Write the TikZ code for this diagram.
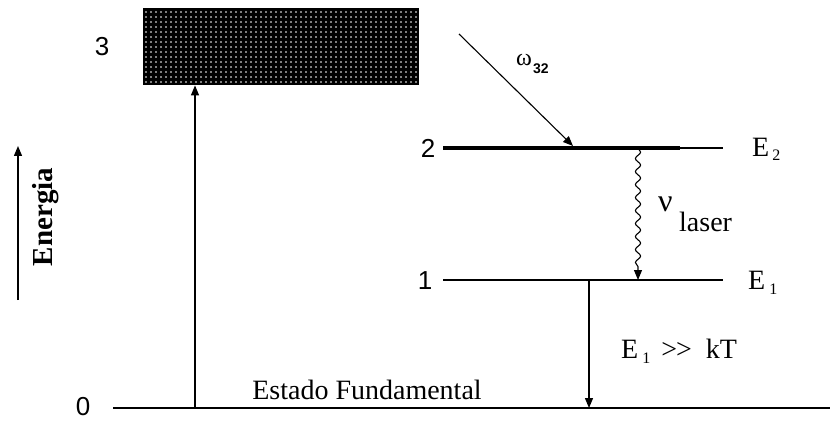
\documentclass[tikz,border=0pt]{standalone}
\usepackage{fontspec}
\setmainfont{Liberation Serif}
\newfontfamily\digitfont{Liberation Sans}
\usetikzlibrary{arrows.meta,decorations.pathmorphing,patterns}
\pgfdeclarepatternformonly{wdots}{\pgfpointorigin}{\pgfpoint{4.5pt}{4.5pt}}{\pgfpoint{4.5pt}{4.5pt}}{\pgfpathcircle{\pgfpoint{2.25pt}{2.25pt}}{1pt}\pgfusepath{fill}}
\begin{document}
\begin{tikzpicture}[x=1pt,y=-1pt,
  level/.style={line width=1.3pt},
  heavy/.style={line width=3.6pt},
  tip/.style={-{Triangle[width=8pt,length=10pt]}},
  txt/.style={inner sep=0pt,font=\fontsize{28}{30}\selectfont},
  num/.style={inner sep=0pt,font=\digitfont\fontsize{26}{28}\selectfont},
  wave/.style={decorate,decoration={snake,amplitude=2.6pt,segment length=13pt,post length=10pt}}]
\useasboundingbox[fill=white] (0,0) rectangle (830,422);
% level 3 band
\node[fill=black,minimum width=276pt,minimum height=77pt,inner sep=0pt,anchor=north west,
      postaction={pattern=wdots,pattern color=white}] (box3) at (143,8) {};
\node[num] (n3) at (102,47) {3};
% ground level
\coordinate (g0) at (113,408);
\coordinate (g1) at (830,408);
\draw[level] (g0) -- (g1);
\draw[heavy,line width=2.8pt] (668,408) -- (g1);
\draw[heavy,line width=2.8pt] (628,408) -- (646,408);
\node[num] (n0) at (83,407) {0};
\node[txt] (fund) at (367,390) {Estado Fundamental};
% level 2
\coordinate (l2a) at (443,148);
\coordinate (l2b) at (723,148);
\draw[level] (l2a) -- (l2b);
\draw[heavy] (l2a) -- (680,148);
\node[num] (n2) at (428,148) {2};
\node[txt,anchor=west] (e2) at (752,149) {E\kern3pt\raisebox{-4pt}{\fontsize{16}{16}\selectfont 2}};
% level 1
\coordinate (l1a) at (443,280);
\coordinate (l1b) at (723,280);
\draw[level] (l1a) -- (l1b);
\draw[heavy,line width=2.8pt] (667,280) -- (693,280);
\draw[heavy,line width=2.8pt] (710,280) -- (l1b);
\node[num] (n1) at (425,281) {1};
\node[txt,anchor=west] (e1) at (748,283) {E\kern4pt\raisebox{-5pt}{\fontsize{16}{16}\selectfont 1}};
% pump arrow
\coordinate (pumpbase) at (195,408);
\draw[level,tip] (pumpbase) -- (pumpbase |- box3.south);
% omega_32 incoming
\coordinate (wstart) at (459,34);
\coordinate (wend) at (573,146);
\draw[line width=1.1pt,tip] (wstart) -- (wend);
\node[inner sep=0pt,anchor=west] (w32) at (516,64) {\fontsize{24}{24}\selectfont ω\kern1pt\raisebox{-8pt}{\digitfont\bfseries\fontsize{14}{14}\selectfont 32}};
% laser transition
\coordinate (lasertop) at (638,148);
\coordinate (laserbot) at (638,280);
\draw[line width=1.1pt,wave,tip] (lasertop) -- (laserbot);
\node[inner sep=0pt,anchor=west] (nu) at (658,204) {\fontsize{32}{32}\selectfont ν};
\node[txt,anchor=west] (laser) at (679,222) {laser};
% decay 1 -> 0
\coordinate (dtop) at (589,280);
\draw[level,tip] (dtop) -- (dtop |- g0);
\node[txt,anchor=west] (cond) at (621,351) {E\kern4pt\raisebox{-5pt}{\fontsize{16}{16}\selectfont 1}\kern11pt >\kern-1pt> \kern7pt kT};
% energy axis
\coordinate (ea0) at (18,300);
\coordinate (ea1) at (18,146);
\draw[level,tip] (ea0) -- (ea1);
\node[txt,rotate=90,font=\bfseries\fontsize{29}{31}\selectfont] (energia) at (46,217) {Energia};
\end{tikzpicture}
\end{document}
